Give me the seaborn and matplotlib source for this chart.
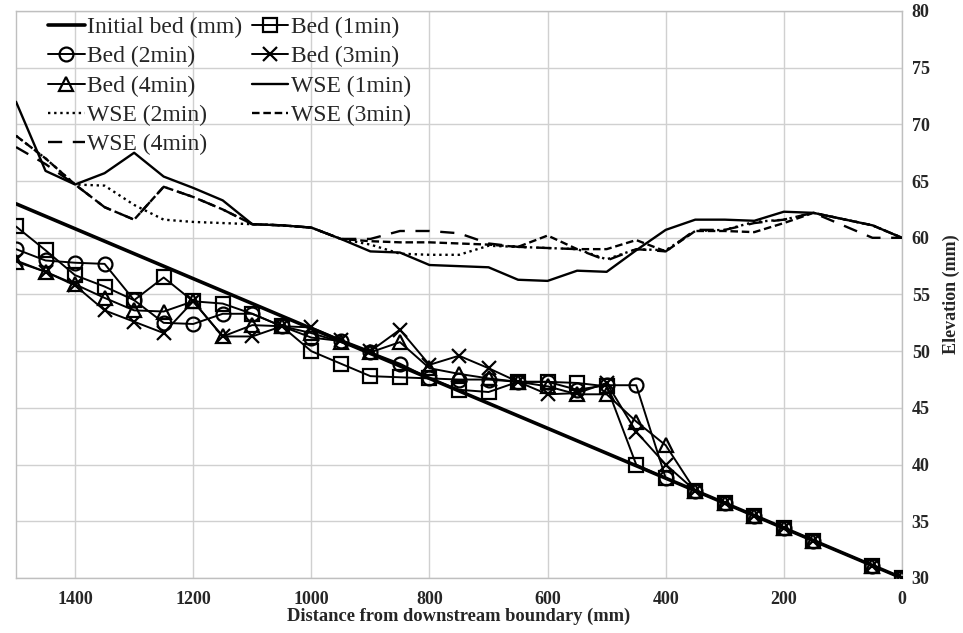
import matplotlib
matplotlib.use("Agg")
import matplotlib.pyplot as plt
import seaborn as sns
import pandas as pd

# ---------------- data ----------------
x_init = [1500, 0]
init_bed = [63.0, 30.0]

x_pos = [1500, 1450, 1400, 1350, 1300, 1250, 1200, 1150, 1100, 1050, 1000, 950, 900, 850, 800,
         750, 700, 650, 600, 550, 500, 450, 400, 350, 300, 250, 200, 150, 50, 0]

bed1 = [61.0, 58.9, 56.7, 55.7, 54.5, 56.5, 54.4, 54.2, 53.3, 52.2, 50.0, 48.9, 47.8, 47.7, 47.6,
        46.6, 46.4, 47.3, 47.3, 47.2, 46.9, 40.0, 38.8, 37.7, 36.6, 35.5, 34.4, 33.3, 31.1, 30.0]
bed2 = [59.0, 58.0, 57.8, 57.7, 54.5, 52.5, 52.4, 53.3, 53.3, 52.2, 51.2, 50.9, 49.9, 48.9, 47.6,
        47.5, 47.5, 47.3, 47.3, 46.6, 47.0, 47.0, 38.8, 37.7, 36.6, 35.5, 34.4, 33.3, 31.1, 30.0]
bed3 = [58.0, 57.0, 55.8, 53.6, 52.6, 51.6, 54.4, 51.3, 51.3, 52.2, 52.1, 51.0, 50.0, 51.9, 48.8,
        49.6, 48.5, 47.3, 46.2, 46.3, 47.2, 42.9, 40.0, 37.7, 36.6, 35.5, 34.4, 33.3, 31.1, 30.0]
bed4 = [57.9, 57.0, 55.9, 54.7, 53.6, 53.5, 54.4, 51.3, 52.3, 52.2, 51.6, 50.8, 49.9, 50.8, 48.5,
        48.0, 47.6, 47.3, 46.9, 46.2, 46.2, 43.8, 41.7, 37.7, 36.6, 35.5, 34.4, 33.3, 31.1, 30.0]

wse1 = [72.0, 65.9, 64.7, 65.7, 67.5, 65.4, 64.4, 63.3, 61.2, 61.1, 60.9, 59.9, 58.8, 58.7, 57.6,
        57.5, 57.4, 56.3, 56.2, 57.1, 57.0, 58.9, 60.7, 61.6, 61.6, 61.5, 62.3, 62.2, 61.1, 60.0]
wse2 = [69.0, 67.0, 64.7, 64.6, 62.9, 61.6, 61.4, 61.3, 61.2, 61.1, 60.9, 59.9, 59.4, 58.6, 58.5,
        58.5, 59.3, 59.2, 59.1, 59.0, 58.1, 59.0, 58.9, 60.6, 60.7, 61.4, 61.6, 62.2, 61.1, 60.0]
wse3 = [69.0, 67.0, 64.7, 62.7, 61.6, 64.5, 63.6, 62.5, 61.2, 61.1, 60.9, 59.9, 59.7, 59.6, 59.6,
        59.5, 59.4, 59.2, 60.2, 59.0, 59.0, 59.8, 58.8, 60.6, 60.6, 60.5, 61.3, 62.2, 61.1, 60.0]
wse4 = [68.0, 66.5, 64.7, 62.7, 61.6, 64.5, 63.6, 62.5, 61.2, 61.1, 60.9, 59.9, 59.9, 60.6, 60.6,
        60.4, 59.5, 59.2, 59.1, 59.0, 58.0, 59.0, 58.8, 60.7, 60.7, 61.3, 61.6, 62.2, 60.0, 60.0]

x_ticks = [1400, 1200, 1000, 800, 600, 400, 200, 0]
y_ticks = [30, 35, 40, 45, 50, 55, 60, 65, 70, 75, 80]

# ---------------- style ----------------
sns.set_style("white")
plt.rcParams['font.family'] = ['Liberation Serif', 'DejaVu Serif']

fig = plt.figure(figsize=(9.63, 6.33), dpi=100)
ax = fig.add_axes([16 / 963, 1 - 578 / 633, 886 / 963, 567 / 633])

grid_c = "#d0d0d0"
ms = 10
mew = 1.6

def bed_line(y, marker, label, size=ms):
    sns.lineplot(x=x_pos, y=y, ax=ax, sort=False, color="k", linewidth=1.4,
                 marker=marker, markersize=size, markerfacecolor="none",
                 markeredgecolor="k", markeredgewidth=mew, label=label, zorder=4)

# WSE lines
sns.lineplot(x=x_pos, y=wse1, ax=ax, sort=False, color="k", linewidth=1.7,
             linestyle="-", label="WSE (1min)", zorder=3)
sns.lineplot(x=x_pos, y=wse2, ax=ax, sort=False, color="k", linewidth=1.7,
             linestyle=(0, (1, 1.6)), label="WSE (2min)", zorder=3)
sns.lineplot(x=x_pos, y=wse3, ax=ax, sort=False, color="k", linewidth=1.7,
             linestyle=(0, (3.2, 1.6)), label="WSE (3min)", zorder=3)
sns.lineplot(x=x_pos, y=wse4, ax=ax, sort=False, color="k", linewidth=1.7,
             linestyle=(0, (6, 4.5)), label="WSE (4min)", zorder=3)

# initial bed
sns.lineplot(x=x_init, y=init_bed, ax=ax, sort=False, color="k", linewidth=2.6,
             label="Initial bed (mm)", zorder=5)

bed_line(bed1, "s", "Bed (1min)", ms + 0.5)
bed_line(bed2, "o", "Bed (2min)")
bed_line(bed3, "x", "Bed (3min)")
bed_line(bed4, "^", "Bed (4min)")

ax.set_xlim(1500, 0)
ax.set_ylim(30, 80)
ax.set_xticks(x_ticks)
ax.set_yticks(y_ticks)
ax.yaxis.tick_right()
ax.yaxis.set_label_position("right")
ax.grid(True, color=grid_c, linewidth=1.0, zorder=0)
ax.set_axisbelow(True)
for s in ax.spines.values():
    s.set_color("#bfbfbf")
    s.set_linewidth(1.0)
ax.tick_params(axis="both", length=0, labelsize=13)
ax.tick_params(axis="x", pad=9)
ax.tick_params(axis="y", pad=7)
for lab in ax.get_xticklabels() + ax.get_yticklabels():
    lab.set_fontweight("bold")

ax.set_xlabel("Distance from downstream boundary (mm)", fontsize=13.3,
              fontweight="bold", labelpad=0)
ax.set_ylabel("Elevation (mm)", fontsize=13, fontweight="bold", labelpad=9)

# legend: row-major ordering with 2 columns
handles, labels = ax.get_legend_handles_labels()
hmap = dict(zip(labels, handles))
order = ["Initial bed (mm)", "Bed (2min)", "Bed (4min)", "WSE (2min)", "WSE (4min)",
         "Bed (1min)", "Bed (3min)", "WSE (1min)", "WSE (3min)"]
leg = ax.legend([hmap[k] for k in order], order, ncol=2, loc="upper left",
                bbox_to_anchor=(32 / 886, 0.99), frameon=False, fontsize=17,
                handlelength=1.55, handletextpad=0.12, columnspacing=0.38,
                labelspacing=0.33, borderaxespad=0, borderpad=0)
leg.set_zorder(6)

fig.savefig("out.png", dpi=100)
